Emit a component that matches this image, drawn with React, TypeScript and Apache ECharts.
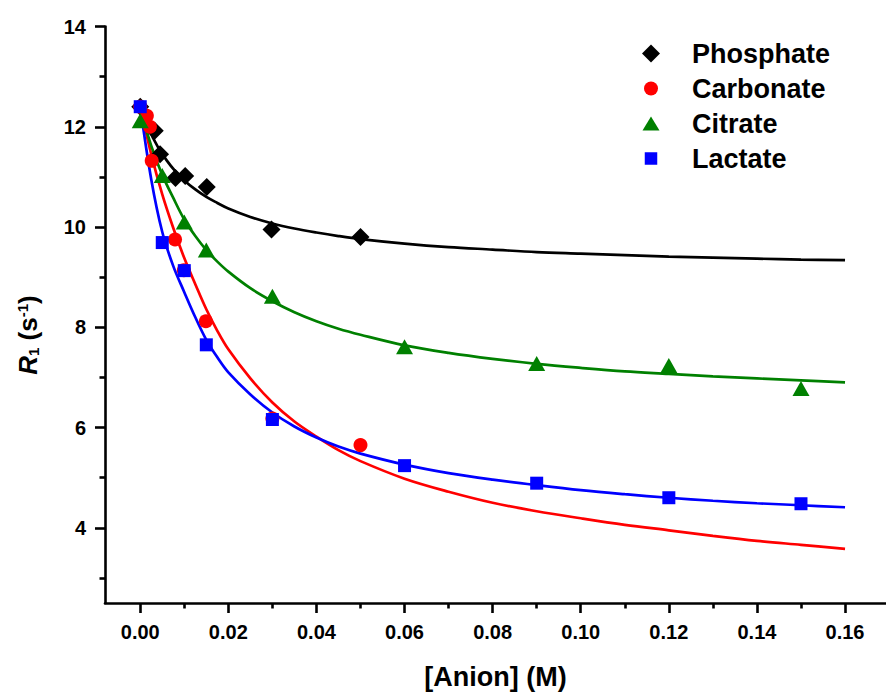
import { useEffect, useRef } from 'react';
import * as echarts from 'echarts';

// Measured points
const phosphateX = [0, 0.0033, 0.0045, 0.008, 0.0102, 0.0151, 0.0298, 0.05];
const phosphateY = [12.4, 11.92, 11.45, 10.98, 11.02, 10.8, 9.95, 9.8];
const carbonateX = [0, 0.0015, 0.0022, 0.0026, 0.0079, 0.0099, 0.0149, 0.03, 0.05];
const carbonateY = [12.4, 12.22, 12.0, 11.32, 9.75, 9.14, 8.12, 6.18, 5.65];
const citrateX = [0, 0.005, 0.01, 0.015, 0.03, 0.06, 0.09, 0.12, 0.15];
const citrateY = [12.12, 11.03, 10.1, 9.54, 8.62, 7.61, 7.28, 7.24, 6.78];
const lactateX = [0, 0.005, 0.01, 0.015, 0.03, 0.06, 0.09, 0.12, 0.15];
const lactateY = [12.4, 9.69, 9.13, 7.65, 6.16, 5.24, 4.89, 4.6, 4.48];

// Fitted curves
const phosphateFitX = [0, 0.002, 0.004, 0.006, 0.008, 0.01, 0.0125, 0.015, 0.0175, 0.02, 0.025, 0.03, 0.035, 0.04, 0.045, 0.05, 0.06, 0.07, 0.08, 0.09, 0.1, 0.11, 0.12, 0.13, 0.14, 0.15, 0.16];
const phosphateFitY = [12.4, 11.94, 11.6, 11.33, 11.11, 10.93, 10.75, 10.6, 10.48, 10.37, 10.2, 10.07, 9.97, 9.89, 9.82, 9.76, 9.67, 9.6, 9.55, 9.5, 9.47, 9.44, 9.41, 9.39, 9.37, 9.35, 9.34];
const carbonateFitX = [0, 0.0025, 0.005, 0.0075, 0.01, 0.0125, 0.015, 0.0175, 0.02, 0.025, 0.03, 0.035, 0.04, 0.045, 0.05, 0.06, 0.07, 0.08, 0.09, 0.1, 0.11, 0.12, 0.13, 0.14, 0.15, 0.16];
const carbonateFitY = [12.4, 11.45, 10.65, 9.98, 9.38, 8.86, 8.36, 7.93, 7.56, 6.98, 6.5, 6.12, 5.82, 5.55, 5.33, 4.98, 4.72, 4.5, 4.33, 4.19, 4.06, 3.95, 3.84, 3.74, 3.66, 3.58];
const citrateFitX = [0, 0.0025, 0.005, 0.0075, 0.01, 0.0125, 0.015, 0.0175, 0.02, 0.025, 0.03, 0.035, 0.04, 0.045, 0.05, 0.06, 0.07, 0.08, 0.09, 0.1, 0.11, 0.12, 0.13, 0.14, 0.15, 0.16];
const citrateFitY = [12.35, 11.62, 11.04, 10.58, 10.15, 9.82, 9.54, 9.31, 9.11, 8.78, 8.52, 8.3, 8.12, 7.97, 7.85, 7.64, 7.49, 7.37, 7.27, 7.19, 7.12, 7.07, 7.02, 6.98, 6.94, 6.9];
const lactateFitX = [0, 0.0025, 0.005, 0.0075, 0.01, 0.0125, 0.015, 0.0175, 0.02, 0.025, 0.03, 0.035, 0.04, 0.045, 0.05, 0.06, 0.07, 0.08, 0.09, 0.1, 0.11, 0.12, 0.13, 0.14, 0.15, 0.16];
const lactateFitY = [12.4, 10.95, 9.9, 9.22, 8.7, 8.2, 7.75, 7.4, 7.1, 6.66, 6.3, 6.02, 5.8, 5.62, 5.48, 5.26, 5.09, 4.96, 4.85, 4.75, 4.67, 4.6, 4.54, 4.49, 4.45, 4.41];

// Axis ticks
const xMajorTicks = [0, 0.02, 0.04, 0.06, 0.08, 0.1, 0.12, 0.14, 0.16];
const xMinorTicks = [0.01, 0.03, 0.05, 0.07, 0.09, 0.11, 0.13, 0.15];
const yMajorTicks = [4, 6, 8, 10, 12, 14];
const yMinorTicks = [3, 5, 7, 9, 11, 13];

const FONT = '"Liberation Sans", Arial, sans-serif';

const zip = (xs: number[], ys: number[]) => xs.map((x, i) => [x, ys[i]]);

export default function App() {
  const ref = useRef<HTMLDivElement>(null);
  useEffect(() => {
    if (!ref.current) return;
    const chart = echarts.init(ref.current, null, { renderer: 'svg' });
    const axisLineStyle = { color: '#000', width: 2.6 };
    const fitLine = (name: string, xs: number[], ys: number[], color: string) => ({
      type: 'line',
      name,
      data: zip(xs, ys),
      showSymbol: false,
      symbol: 'none',
      smooth: 0.35,
      lineStyle: { color, width: 2.7 },
      itemStyle: { color },
      silent: true,
      z: 2,
    });
    chart.setOption({
      animation: false,
      backgroundColor: '#fff',
      grid: { left: 105, right: 0, top: 26.5, bottom: 88, containLabel: false },
      xAxis: [
        {
          type: 'value',
          min: -0.008,
          max: 0.1693,
          position: 'bottom',
          name: '[Anion] (M)',
          nameLocation: 'middle',
          nameGap: 60,
          nameTextStyle: { fontSize: 27, fontWeight: 'bold', color: '#000', fontFamily: FONT },
          axisLine: { onZero: false, lineStyle: axisLineStyle },
          axisTick: { customValues: xMajorTicks, length: 10, lineStyle: axisLineStyle },
          axisLabel: {
            customValues: xMajorTicks,
            margin: 19,
            fontSize: 20,
            fontWeight: 'bold',
            color: '#000',
            fontFamily: FONT,
            formatter: (v: number) => v.toFixed(2),
          },
          splitLine: { show: false },
        },
        {
          type: 'value',
          min: -0.008,
          max: 0.1693,
          position: 'bottom',
          axisLine: { show: false, onZero: false },
          axisTick: { customValues: xMinorTicks, length: 5.5, lineStyle: axisLineStyle },
          axisLabel: { show: false },
          splitLine: { show: false },
        },
      ],
      yAxis: [
        {
          type: 'value',
          min: 2.5,
          max: 14,
          position: 'left',
          axisLine: { show: true, onZero: false, lineStyle: axisLineStyle },
          axisTick: { show: true, customValues: yMajorTicks, length: 10, lineStyle: axisLineStyle },
          axisLabel: {
            customValues: yMajorTicks,
            margin: 19,
            fontSize: 20,
            fontWeight: 'bold',
            color: '#000',
            fontFamily: FONT,
          },
          splitLine: { show: false },
        },
        {
          type: 'value',
          min: 2.5,
          max: 14,
          position: 'left',
          axisLine: { show: false, onZero: false },
          axisTick: { show: true, customValues: yMinorTicks, length: 5.5, lineStyle: axisLineStyle },
          axisLabel: { show: false },
          splitLine: { show: false },
        },
      ],
      legend: {
        orient: 'vertical',
        left: 642,
        top: 40,
        padding: 0,
        itemWidth: 72,
        itemHeight: 18,
        itemGap: 8,
        selectedMode: false,
        textStyle: { fontSize: 27, fontWeight: 'bold', color: '#000', fontFamily: FONT },
        data: [
          { name: 'Phosphate', icon: 'path://M9,0 L18,9 L9,18 L0,9 Z' },
          { name: 'Carbonate', icon: 'path://M0,0 M18,18 M2,9 A7,7 0 1 1 16,9 A7,7 0 1 1 2,9 Z' },
          { name: 'Citrate', icon: 'path://M0,0 M18,18 M9,2 L17.5,16 L0.5,16 Z' },
          { name: 'Lactate', icon: 'path://M0,0 M18,18 M2.75,2.75 L15.25,2.75 L15.25,15.25 L2.75,15.25 Z' },
        ],
      },
      graphic: [
        {
          type: 'text',
          x: 28,
          y: 335,
          rotation: Math.PI / 2,
          style: {
            text: '{i|R}{sub|1}{n| (s}{sup|-1}{n|)}',
            align: 'center',
            verticalAlign: 'middle',
            rich: {
              i: { fontSize: 26, fontWeight: 'bold', fontStyle: 'italic', fontFamily: FONT, fill: '#000' },
              sub: { fontSize: 15, fontWeight: 'bold', fontFamily: FONT, fill: '#000', verticalAlign: 'bottom' },
              n: { fontSize: 26, fontWeight: 'bold', fontFamily: FONT, fill: '#000' },
              sup: { fontSize: 15, fontWeight: 'bold', fontFamily: FONT, fill: '#000', verticalAlign: 'top' },
            },
          },
        },
      ],
      series: [
        fitLine('Phosphate fit', phosphateFitX, phosphateFitY, '#000000'),
        fitLine('Carbonate fit', carbonateFitX, carbonateFitY, '#ff0000'),
        fitLine('Citrate fit', citrateFitX, citrateFitY, '#008000'),
        fitLine('Lactate fit', lactateFitX, lactateFitY, '#0000ff'),
        {
          type: 'scatter',
          name: 'Phosphate',
          data: zip(phosphateX, phosphateY),
          symbol: 'diamond',
          symbolSize: 18,
          itemStyle: { color: '#000000', opacity: 1 },
          z: 3,
        },
        {
          type: 'scatter',
          name: 'Carbonate',
          data: zip(carbonateX, carbonateY),
          symbol: 'circle',
          symbolSize: 14,
          itemStyle: { color: '#ff0000', opacity: 1 },
          z: 3,
        },
        {
          type: 'scatter',
          name: 'Citrate',
          data: zip(citrateX, citrateY),
          symbol: 'triangle',
          symbolSize: [17, 15],
          itemStyle: { color: '#008000', opacity: 1 },
          z: 3,
        },
        {
          type: 'scatter',
          name: 'Lactate',
          data: zip(lactateX, lactateY),
          symbol: 'rect',
          symbolSize: 13,
          itemStyle: { color: '#0000ff', opacity: 1 },
          z: 3,
        },
      ],
    });
    return () => chart.dispose();
  }, []);
  return (
    <div
      ref={ref}
      style={{ position: 'fixed', left: 0, top: 0, width: 886, height: 695, background: '#fff' }}
    />
  );
}
